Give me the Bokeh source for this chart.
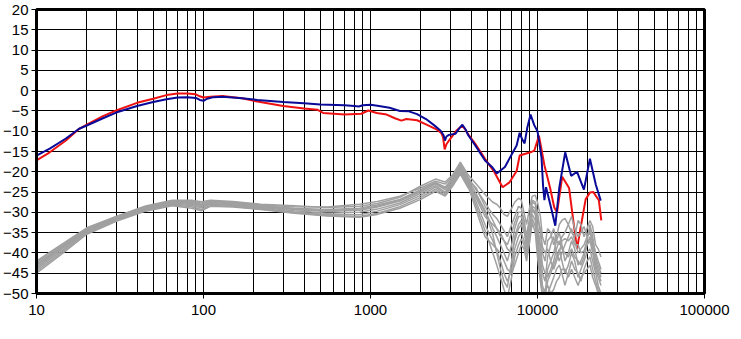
from bokeh.plotting import figure
from bokeh.models import FixedTicker, SingleIntervalTicker, PrintfTickFormatter, Range1d
from bokeh.embed import file_html
from bokeh.resources import INLINE

# ---------------- data ----------------
BLUE_F = [10, 12, 15, 18, 20, 25, 30, 40, 50, 60, 70, 80, 90, 95, 100, 105, 115, 130, 170, 210,
          300, 400, 500, 700, 800, 850, 900, 1000, 1100, 1300, 1500, 1700, 1900, 2150, 2400,
          2630, 2740, 2790, 2850, 2950, 3230, 3400, 3550, 3700, 3850, 4240, 4850, 5340, 5700, 6380,
          6990, 7500, 7820, 8100, 8370, 8700, 9090, 9560, 10000, 10570, 10800, 11000, 11250, 12000, 12780,
          13500, 14650, 15900, 17250, 18970, 20600, 22350, 23920]
BLUE_DB = [-16.0, -14.3, -11.8, -9.4, -8.6, -6.8, -5.4, -3.8, -2.8, -2.1, -1.7, -1.6, -1.8, -2.3, -2.5,
           -2.0, -1.6, -1.5, -1.9, -2.3, -2.8, -3.1, -3.4, -3.6, -3.8, -3.9, -3.6, -3.5, -3.7, -4.2,
           -5.0, -5.1, -5.8, -7.0, -8.5, -9.9, -11.0, -12.3, -11.3, -10.9, -10.6, -9.3, -8.4, -9.5, -11.0,
           -13.5, -17.2, -18.8, -20.4, -18.8, -15.8, -13.5, -10.4, -12.0, -13.0, -9.0, -5.9, -8.5, -10.0, -16.5,
           -23.5, -27.0, -23.8, -28.5, -33.3, -24.0, -15.2, -21.0, -20.0, -24.4, -16.8, -23.2, -27.1]

RED_F = [10, 12, 15, 18, 20, 25, 30, 40, 50, 60, 70, 80, 90, 95, 100, 110, 130, 170, 210, 300,
         400, 480, 520, 700, 880, 970, 1090, 1250, 1400, 1530, 1640, 1900, 2150, 2500, 2650,
         2720, 2780, 2850, 2950, 3260, 3550, 3700, 3850, 4240, 4850, 5500, 6180, 6800, 7500, 7820,
         8370, 9090, 9560, 10200, 10570, 11000, 11900, 12600, 13100, 14060, 15460, 16500, 17250, 18150, 19420,
         20600, 21600, 23300, 24100]
RED_DB = [-17.2, -15.2, -12.3, -9.4, -8.4, -6.3, -4.9, -3.0, -2.0, -1.1, -0.7, -0.7, -0.9, -1.4, -1.7,
          -1.5, -1.3, -1.9, -2.7, -3.8, -4.4, -4.7, -5.5, -5.9, -5.7, -4.9, -5.5, -5.9, -6.8, -7.4,
          -7.0, -7.3, -8.3, -9.6, -10.4, -11.5, -14.5, -13.2, -12.3, -9.9, -8.6, -9.6, -10.8, -13.1, -16.8,
          -20.0, -23.8, -22.6, -19.8, -16.0, -15.6, -15.2, -14.8, -11.1, -14.5, -18.4, -24.0, -28.8, -30.0, -21.2,
          -24.0, -33.0, -39.0, -33.6, -26.8, -25.1, -25.0, -27.0, -32.0]

GRAY_F = [10, 14, 20, 30, 45, 65, 85, 97, 110, 150, 220, 350, 550, 860, 1100, 1500, 2000, 2450, 2800,
          3100, 3450, 3850,
          4300, 4850, 5100, 5400, 5700, 6000, 6300, 6600, 7000, 7300, 7700, 8000, 8300, 8600, 9000, 9300,
          9700, 10000, 10400, 10700, 11100, 11500, 12000, 12500, 13000, 13500, 14000, 14600, 15300, 16000,
          16700, 17500, 18200, 19000, 19800, 20600, 21400, 22300, 23100, 24000]
GRAY_1 = [-42.0, -38.0, -33.8, -31.0, -28.4, -27.0, -27.0, -27.4, -27.0, -27.3, -28.0, -28.4, -28.8, -28.5,
          -27.8, -26.3, -23.5, -21.8, -22.5, -20.8, -17.6, -20.8,
          -23.0, -25.6, -26.5, -27.5, -28.0, -29.0, -30.5, -31.0, -29.0, -27.5, -26.5, -27.0, -30.0, -33.0,
          -28.5, -26.0, -25.8, -27.5, -31.0, -36.0, -38.0, -34.0, -35.0, -38.0, -36.0, -33.0, -32.0, -31.5,
          -33.0, -35.0, -36.0, -32.0, -33.0, -36.0, -34.0, -32.0, -33.5, -38.0, -39.0, -41.0]
GRAY_2 = [-42.4, -38.3, -34.0, -31.1, -28.6, -27.2, -27.3, -27.7, -27.2, -27.5, -28.2, -28.6, -28.7, -28.0,
          -27.3, -26.0, -24.0, -22.3, -23.0, -21.2, -18.2, -21.4,
          -24.5, -27.5, -29.0, -30.5, -31.5, -33.0, -34.5, -36.0, -33.0, -31.0, -28.5, -29.0, -32.0, -36.5,
          -31.0, -27.0, -27.5, -30.0, -35.0, -40.0, -42.0, -37.0, -36.0, -34.0, -37.0, -38.0, -36.0, -35.0,
          -33.0, -31.0, -34.0, -36.0, -35.0, -33.5, -36.0, -35.0, -37.0, -40.0, -42.0, -44.0]
GRAY_3 = [-42.8, -38.6, -34.2, -31.3, -28.8, -27.4, -27.5, -28.0, -27.4, -27.7, -28.4, -29.0, -29.3, -29.0,
          -28.2, -26.8, -24.4, -22.6, -23.8, -21.6, -18.7, -21.9,
          -25.5, -29.5, -31.5, -34.0, -36.0, -38.0, -40.0, -42.0, -38.0, -34.0, -31.0, -31.0, -33.5, -38.0,
          -33.0, -28.5, -29.0, -33.0, -39.0, -45.0, -47.0, -41.0, -38.0, -36.0, -40.0, -42.0, -40.0, -38.0,
          -36.0, -34.0, -37.0, -40.0, -39.0, -38.0, -36.0, -34.0, -38.0, -42.0, -44.0, -46.0]
GRAY_4 = [-43.2, -38.9, -34.4, -31.5, -29.0, -27.6, -27.8, -28.3, -27.6, -27.9, -28.6, -29.3, -29.8, -29.5,
          -28.7, -27.2, -24.9, -23.0, -24.4, -22.0, -19.1, -22.3,
          -26.5, -31.0, -32.0, -33.0, -34.0, -35.0, -37.0, -39.0, -40.0, -37.0, -34.0, -33.0, -35.0, -35.0,
          -32.0, -29.5, -30.5, -35.0, -42.0, -48.0, -50.0, -44.0, -42.0, -40.0, -37.0, -35.0, -38.0, -42.0,
          -40.0, -37.0, -39.0, -43.0, -42.0, -40.0, -38.0, -37.0, -40.0, -44.0, -46.0, -48.0]
GRAY_5 = [-43.6, -39.2, -34.6, -31.6, -29.1, -27.8, -28.0, -28.6, -27.8, -28.1, -28.8, -29.6, -30.2, -30.0,
          -29.2, -27.7, -25.3, -23.4, -25.0, -22.4, -19.5, -22.7,
          -27.5, -33.0, -35.0, -37.0, -39.5, -42.0, -45.0, -47.0, -44.0, -39.0, -36.0, -35.0, -37.0, -40.0,
          -34.0, -30.5, -32.0, -37.0, -44.0, -51.0, -51.0, -47.0, -45.0, -43.0, -41.0, -39.0, -42.0, -45.0,
          -43.0, -40.0, -42.0, -46.0, -44.0, -42.0, -40.0, -39.0, -42.0, -45.0, -48.0, -50.0]
GRAY_6 = [-44.0, -39.6, -34.8, -31.8, -29.3, -28.0, -28.3, -28.9, -28.0, -28.3, -29.0, -29.9, -30.5, -30.6,
          -29.7, -28.1, -25.8, -23.8, -25.4, -22.8, -19.9, -23.1,
          -28.5, -34.5, -37.0, -40.0, -43.0, -46.0, -49.0, -51.0, -46.0, -41.0, -38.0, -36.5, -38.0, -41.0,
          -35.5, -31.5, -33.5, -39.0, -46.0, -51.0, -51.0, -50.0, -48.0, -46.0, -44.0, -43.0, -45.0, -48.0,
          -45.0, -42.0, -44.0, -45.0, -47.0, -44.0, -42.0, -41.0, -44.0, -47.0, -49.0, -51.0]
GRAY_7 = [-44.5, -40.0, -35.1, -32.0, -29.5, -28.2, -28.6, -29.3, -28.3, -28.5, -29.2, -30.1, -30.8, -31.0,
          -30.2, -28.6, -26.3, -24.3, -25.8, -23.2, -20.3, -23.6,
          -29.5, -36.0, -37.0, -38.0, -39.0, -40.0, -42.0, -44.0, -45.0, -43.0, -40.0, -38.0, -39.0, -42.0,
          -37.0, -32.5, -35.0, -41.0, -47.0, -50.0, -49.0, -48.0, -50.0, -49.0, -47.0, -46.0, -44.0, -44.0,
          -46.0, -44.0, -46.0, -48.0, -46.0, -45.0, -44.0, -43.0, -46.0, -48.0, -50.0, -51.0]
GRAY_8 = [-45.0, -40.4, -35.4, -32.2, -29.7, -28.4, -29.0, -29.6, -28.5, -28.7, -29.3, -30.2, -30.9, -31.2,
          -30.5, -29.0, -26.8, -24.8, -26.0, -23.6, -20.6, -24.0,
          -26.0, -30.0, -32.5, -35.5, -40.0, -44.0, -47.0, -48.5, -42.0, -36.0, -33.0, -32.0, -34.0, -39.0,
          -33.0, -29.0, -30.0, -34.0, -38.0, -43.0, -45.0, -46.0, -44.0, -42.0, -39.0, -37.0, -39.0, -40.0,
          -41.0, -39.0, -41.0, -42.0, -43.0, -41.0, -38.0, -36.0, -39.0, -43.0, -45.0, -47.0]
GRAY_9 = [-43.0, -38.8, -34.3, -31.4, -28.9, -27.5, -27.6, -28.1, -27.5, -27.8, -28.5, -29.2, -29.6, -29.2,
          -28.5, -27.0, -24.7, -22.8, -24.0, -21.8, -18.9, -22.0,
          -24.0, -28.5, -30.0, -32.0, -34.0, -36.0, -37.0, -38.0, -35.0, -32.5, -30.0, -30.0, -32.0, -37.0,
          -31.5, -27.5, -28.0, -31.5, -34.0, -38.5, -40.0, -39.0, -42.0, -44.0, -42.0, -40.0, -37.0, -36.5,
          -37.0, -36.0, -38.0, -38.0, -40.0, -39.5, -37.0, -33.0, -36.0, -41.0, -43.0, -45.0]
GRAY_SERIES = [GRAY_1, GRAY_2, GRAY_3, GRAY_4, GRAY_5, GRAY_6, GRAY_7, GRAY_8, GRAY_9]

X_MAJOR = [10, 100, 1000, 10000, 100000]
X_MINOR = [m * d for d in [10, 100, 1000, 10000] for m in range(2, 10)]

# ---------------- figure ----------------
p = figure(width=733, height=323, x_axis_type="log",
           x_range=Range1d(10, 100000), y_range=Range1d(-50, 20),
           output_backend="svg", toolbar_location=None,
           min_border_left=30, min_border_right=29, min_border_top=9, min_border_bottom=30)
p.background_fill_color = "white"
p.border_fill_color = "white"
p.outline_line_color = "black"
p.outline_line_width = 3

p.xaxis.ticker = FixedTicker(ticks=X_MAJOR, minor_ticks=X_MINOR)
p.xaxis.formatter = PrintfTickFormatter(format="%d")
p.yaxis.ticker = SingleIntervalTicker(interval=5)

for ax in (p.xaxis, p.yaxis):
    ax.axis_line_color = "black"
    ax.axis_line_width = 3
    ax.major_tick_line_color = "black"
    ax.major_tick_line_width = 1
    ax.major_tick_in = 0
    ax.major_tick_out = 5
    ax.minor_tick_line_color = None
    ax.major_label_text_font = "Liberation Sans"
    ax.major_label_text_font_size = "15px"
    ax.major_label_text_color = "black"
p.yaxis.major_label_standoff = 3
p.xaxis.major_label_standoff = 6

p.xgrid.grid_line_color = "black"
p.xgrid.grid_line_width = 1
p.xgrid.minor_grid_line_color = "black"
p.xgrid.minor_grid_line_width = 1
p.ygrid.grid_line_color = "black"
p.ygrid.grid_line_width = 1

p.line(RED_F, RED_DB, line_color="#ee1111", line_width=2)
for g in GRAY_SERIES:
    p.line(GRAY_F, g, line_color="#a0a0a0", line_width=1.5)
p.line(BLUE_F, BLUE_DB, line_color="#0a0a99", line_width=2)

open("out.html", "w").write(file_html(p, INLINE))
